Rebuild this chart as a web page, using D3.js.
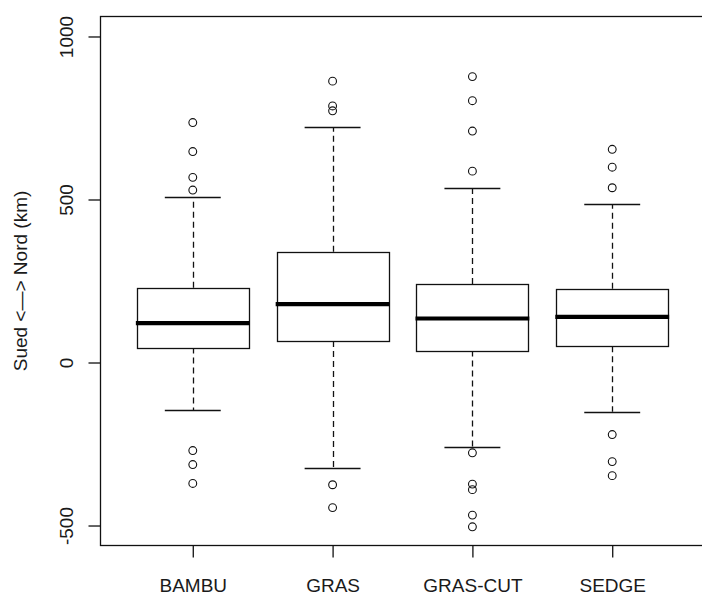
<!DOCTYPE html>
<html>
<head>
<meta charset="utf-8">
<script src="https://cdn.jsdelivr.net/npm/d3@7"></script>
<style>
  html, body { margin: 0; padding: 0; background: #fff; }
  svg { display: block; }
  text { font-family: Arial, "Liberation Sans", sans-serif; fill: #1a1a1a; }
</style>
</head>
<body>
<svg id="chart" width="702" height="597"></svg>
<script>
// Box-plot summaries per group (km)
const categories   = ["BAMBU", "GRAS", "GRAS-CUT", "SEDGE"];
const lowerWhisker = [-147, -324, -260, -151];
const q1           = [46, 66, 37, 50];
const median       = [121, 179, 135, 140];
const q3           = [229, 340, 241, 226];
const upperWhisker = [508, 722, 536, 485];
const outliers     = [
  [736, 647, 568, 529, -270, -313, -371],
  [863, 787, 772, -375, -445],
  [877, 803, 710, 587, -277, -373, -390, -468, -504],
  [654, 599, 536, -221, -304, -347]
];
const yTicks = [-500, 0, 500, 1000];
const yTitle = "Sued <\u2014> Nord (km)";

const svg = d3.select("#chart");
const plotLeft = 100.5, plotRight = 704.5, plotTop = 16.5, plotBottom = 545.5;

const x = d3.scaleLinear().domain([0.34, 4.66]).range([plotLeft, plotRight]);
const y = d3.scaleLinear().domain([-561.3, 1061.3]).range([plotBottom, plotTop]);

const halfBox = 0.4, halfCap = 0.2;
const ink = "#111";

const groups = svg.append("g")
  .selectAll("g")
  .data(categories.map((c, i) => ({
    name: c, pos: i + 1,
    lw: lowerWhisker[i], q1: q1[i], med: median[i], q3: q3[i], uw: upperWhisker[i],
    out: outliers[i]
  })))
  .join("g");

// dashed whiskers
groups.append("line")
  .attr("x1", d => Math.round(x(d.pos)) + 0.5).attr("x2", d => Math.round(x(d.pos)) + 0.5)
  .attr("y1", d => y(d.q3)).attr("y2", d => y(d.uw))
  .attr("stroke", ink).attr("stroke-width", 1.3).attr("stroke-dasharray", "6,4");
groups.append("line")
  .attr("x1", d => Math.round(x(d.pos)) + 0.5).attr("x2", d => Math.round(x(d.pos)) + 0.5)
  .attr("y1", d => y(d.q1)).attr("y2", d => y(d.lw))
  .attr("stroke", ink).attr("stroke-width", 1.3).attr("stroke-dasharray", "6,4");

// whisker caps
["uw", "lw"].forEach(k => {
  groups.append("line")
    .attr("x1", d => x(d.pos - halfCap)).attr("x2", d => x(d.pos + halfCap))
    .attr("y1", d => Math.round(y(d[k])) + 0.5).attr("y2", d => Math.round(y(d[k])) + 0.5)
    .attr("stroke", ink).attr("stroke-width", 1.3);
});

// boxes
groups.append("rect")
  .attr("x", d => Math.round(x(d.pos - halfBox)) + 0.5)
  .attr("width", d => Math.round(x(d.pos + halfBox) - x(d.pos - halfBox)))
  .attr("y", d => Math.round(y(d.q3)) + 0.5)
  .attr("height", d => Math.round(y(d.q1) - y(d.q3)))
  .attr("fill", "#fff").attr("stroke", ink).attr("stroke-width", 1.3);

// medians
groups.append("line")
  .attr("x1", d => x(d.pos - halfBox) - 1).attr("x2", d => x(d.pos + halfBox) + 1)
  .attr("y1", d => y(d.med)).attr("y2", d => y(d.med))
  .attr("stroke", "#000").attr("stroke-width", 4.2);

// outliers
groups.each(function(d) {
  d3.select(this).selectAll("circle")
    .data(d.out)
    .join("circle")
    .attr("cx", x(d.pos))
    .attr("cy", v => y(v))
    .attr("r", 3.9)
    .attr("fill", "none")
    .attr("stroke", ink)
    .attr("stroke-width", 1.1);
});

// frame
svg.append("rect")
  .attr("x", plotLeft).attr("y", plotTop)
  .attr("width", plotRight - plotLeft).attr("height", plotBottom - plotTop)
  .attr("fill", "none").attr("stroke", ink).attr("stroke-width", 1.3);

// y axis
const yAxis = d3.axisLeft(y).tickValues(yTicks).tickSize(12).tickPadding(0)
  .tickFormat(d => String(d));
const ya = svg.append("g").attr("transform", `translate(${plotLeft},0)`).call(yAxis);
ya.select(".domain").remove();
ya.selectAll(".tick line").attr("stroke", ink).attr("stroke-width", 1.3);
ya.selectAll(".tick text")
  .attr("x", null).attr("dy", null)
  .attr("transform", "translate(-28,0) rotate(-90)")
  .attr("text-anchor", "middle")
  .style("font-size", "19px")
  .style("font-family", "Arial, 'Liberation Sans', sans-serif")
  .attr("fill", "#1a1a1a");

// x axis
const xAxis = d3.axisBottom(x).tickValues(categories.map((c, i) => i + 1))
  .tickSize(12).tickPadding(0).tickFormat(d => categories[d - 1]);
const xa = svg.append("g").attr("transform", `translate(0,${plotBottom})`).call(xAxis);
xa.select(".domain").remove();
xa.selectAll(".tick line").attr("stroke", ink).attr("stroke-width", 1.3);
xa.selectAll(".tick text")
  .attr("y", 46).attr("dy", null)
  .style("font-size", "19px")
  .style("font-family", "Arial, 'Liberation Sans', sans-serif")
  .attr("fill", "#1a1a1a");

// y title
svg.append("text")
  .attr("transform", `translate(27,${(plotTop + plotBottom) / 2}) rotate(-90)`)
  .attr("text-anchor", "middle")
  .style("font-size", "19px")
  .text(yTitle);
</script>
</body>
</html>
